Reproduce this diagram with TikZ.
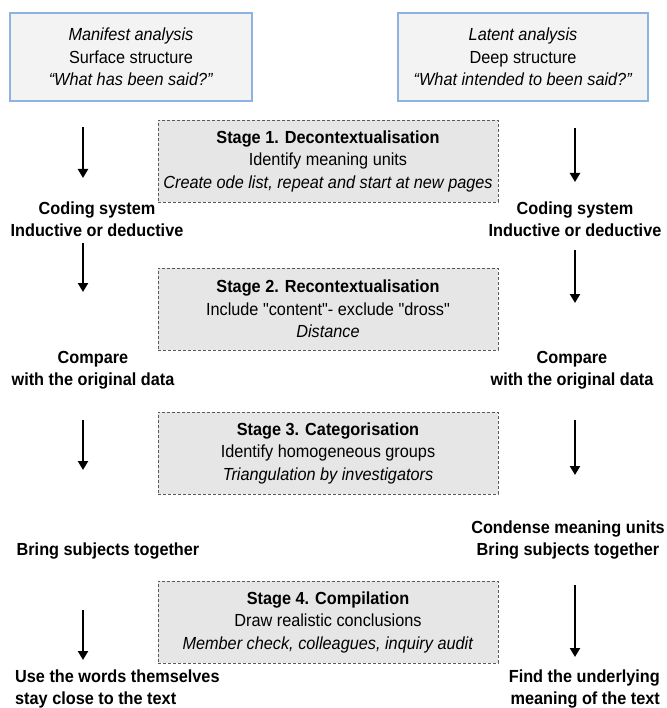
\documentclass[tikz,border=0pt]{standalone}
\usepackage{fontspec}
\setmainfont{Liberation Sans}[FakeStretch=0.93]
\usetikzlibrary{arrows.meta}
\definecolor{boxblue}{HTML}{8DB3E2}
\definecolor{topfill}{HTML}{F3F3F3}
\definecolor{stagefill}{HTML}{E6E6E6}
\definecolor{dashgray}{HTML}{5A5A5A}
\begin{document}
\begin{tikzpicture}[x=1pt,y=-1pt,
  every node/.style={font=\fontsize{17.5}{22.5}\selectfont, align=center, inner sep=0pt},
  topbox/.style={draw=boxblue, line width=2pt, fill=topfill, minimum width=242pt, minimum height=88pt},
  stagebox/.style={draw=dashgray, line width=0.8pt, dash pattern=on 3pt off 2pt, fill=stagefill, minimum width=340pt, minimum height=82pt},
  lbl/.style={font=\fontsize{17.5}{22.5}\selectfont\bfseries},
  arr/.style={-{Triangle[width=10pt,length=9pt]}, line width=2.2pt}]
\useasboundingbox (0,0) rectangle (666,708);

% top boxes
\node[topbox] (manifest) at (131,57) {\textit{Manifest analysis}\\Surface structure\\\textit{``What has been said?''}};
\node[topbox, minimum width=250pt] (latent) at (523,57) {\textit{Latent analysis}\\Deep structure\\\textit{``What intended to been said?''}};

% stage boxes
\node[stagebox] (s1) at (328,161) {\textbf{Stage 1. Decontextualisation}\\Identify meaning units\\\textit{Create ode list, repeat and start at new pages}};
\node[stagebox] (s2) at (328,309) {\textbf{Stage 2. Recontextualisation}\\{\addfontfeatures{Ligatures=TeXOff}Include "content"- exclude "dross"}\\\textit{Distance}};
\node[stagebox] (s3) at (328,453) {\textbf{Stage 3. Categorisation}\\Identify homogeneous groups\\\textit{Triangulation by investigators}};
\node[stagebox] (s4) at (328,622) {\textbf{Stage 4. Compilation}\\Draw realistic conclusions\\\textit{Member check, colleagues, inquiry audit}};

% left column labels
\node[lbl] (lcode) at (97,219) {Coding system\\Inductive or deductive};
\node[lbl] (lcomp) at (93,370) {Compare\\with the original data};
\node[lbl] (lbring) at (108,551) {Bring subjects together};
\node[lbl, align=left, anchor=west] (luse) at (15,689) {Use the words themselves\\stay close to the text};

% right column labels
\node[lbl] (rcode) at (575,219) {Coding system\\Inductive or deductive};
\node[lbl] (rcomp) at (572,370) {Compare\\with the original data};
\node[lbl] (rbring) at (568,540) {Condense meaning units\\Bring subjects together};
\node[lbl, align=right, anchor=east] (rfind) at (660,689) {Find the underlying\\meaning of the text};

% arrow end points
\coordinate (la1) at (83,127); \coordinate (lb1) at (83,178);
\coordinate (la2) at (83,243); \coordinate (lb2) at (83,292);
\coordinate (la3) at (83,420); \coordinate (lb3) at (83,470);
\coordinate (la4) at (83,610); \coordinate (lb4) at (83,660);
\coordinate (ra1) at (575,128); \coordinate (rb1) at (575,182);
\coordinate (ra2) at (575,250); \coordinate (rb2) at (575,303);
\coordinate (ra3) at (575,420); \coordinate (rb3) at (575,475);
\coordinate (ra4) at (575,585); \coordinate (rb4) at (575,657);

\foreach \i in {1,2,3,4}{
  \draw[arr] (la\i) -- (lb\i);
  \draw[arr] (ra\i) -- (rb\i);
}
\end{tikzpicture}
\end{document}
